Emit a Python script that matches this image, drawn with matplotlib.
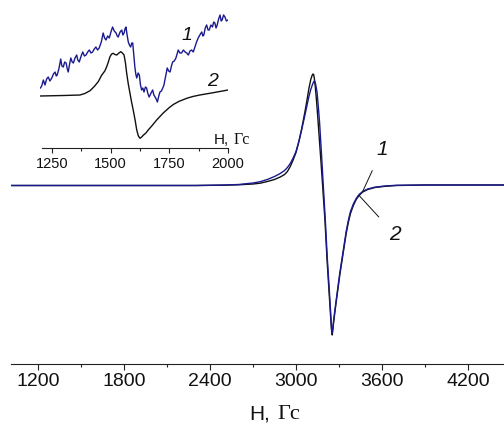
import matplotlib
matplotlib.use("Agg")
import matplotlib.pyplot as plt
from matplotlib.ticker import MultipleLocator, FixedLocator

# ---------------- data (main spectra) ----------------
black_h = [1012, 2300, 2500, 2600, 2700, 2750, 2800, 2850, 2890, 2920, 2940, 2960,
           2980, 3000, 3020, 3040, 3060, 3075, 3090, 3103, 3112, 3118, 3123, 3128,
           3135, 3143, 3152, 3160, 3174, 3188, 3202, 3216, 3230, 3241, 3248, 3253,
           3260, 3270, 3280, 3292, 3305, 3320, 3335, 3350, 3365, 3380, 3400, 3420,
           3440, 3465, 3500, 3550, 3620, 3700, 3900, 4451]
black_v = [0, 0, 0.3, 0.7, 1.5, 2.3, 4, 6, 8.5, 11, 14, 19,
           25.5, 33, 44, 57, 72, 84, 97, 106, 110, 111.5, 111, 107,
           98, 85, 68, 52, 24, -5, -35, -73, -105, -130, -145, -149.5,
           -140, -128, -117, -104, -90, -76, -62, -48, -37, -28, -20, -14,
           -10, -6.5, -4, -2, -0.8, 0, 0.5, 0.5]

blue_h = [1012, 2300, 2500, 2600, 2700, 2750, 2800, 2850, 2890, 2920, 2940, 2960,
          2980, 3000, 3020, 3040, 3060, 3075, 3090, 3103, 3115, 3124, 3130, 3136,
          3141, 3147, 3155, 3164, 3178, 3192, 3205, 3218, 3232, 3242, 3248, 3253,
          3260, 3270, 3280, 3292, 3305, 3320, 3335, 3350, 3365, 3380, 3400, 3420,
          3440, 3465, 3500, 3550, 3620, 3700, 3900, 4451]
blue_v = [0, 0, 0.5, 1, 2.5, 3.8, 6, 9, 12, 15, 18, 22,
          27.5, 34, 44, 56, 69, 79, 89, 96, 101, 104, 104.5, 102,
          98, 93, 80, 64, 31, -4, -36, -72, -104, -128, -143, -147.5,
          -138, -126, -115, -102, -88, -74, -60, -46, -35, -26, -18.5, -13,
          -9, -6, -3.5, -1.7, -0.5, 0.2, 0.5, 0.5]

# ---------------- data (inset) ----------------
inset2_h = [1200, 1300, 1369, 1390, 1412, 1430, 1447, 1462, 1475, 1483, 1490, 1497,
            1504, 1511, 1518, 1526, 1535, 1543, 1550, 1557, 1563, 1568, 1575, 1582,
            1589, 1596, 1604, 1611, 1618, 1625, 1632, 1640, 1650, 1660, 1675, 1696,
            1724, 1750, 1767, 1790, 1824, 1850, 1880, 1937, 2000]
inset2_v = [52, 52.5, 53, 54.5, 57.3, 61.5, 66.3, 73, 77, 81.3, 86, 91.3,
            94, 94.7, 93.5, 93, 95, 96.3, 95, 93, 85, 75, 64, 55,
            46, 38, 28, 18, 12, 9.7, 11, 13, 15, 18, 22, 28,
            35, 40.5, 43.5, 46.5, 49.7, 51.5, 53, 55.3, 58]

inset1_points = [
    (1200, 60), (1206, 62), (1213, 68), (1220, 63), (1227, 69), (1234, 71), (1241, 67),
    (1249, 70), (1256, 74), (1263, 76), (1268, 72), (1272, 73), (1280, 80), (1287, 89),
    (1292, 82), (1298, 81), (1304, 86), (1310, 85), (1315, 79), (1319, 76), (1325, 84),
    (1330, 90), (1336, 86), (1341, 85), (1348, 90), (1355, 93), (1360, 88), (1366, 86),
    (1374, 92), (1381, 96), (1388, 92), (1395, 93), (1402, 96), (1409, 98), (1416, 95),
    (1423, 96), (1430, 99), (1437, 101), (1444, 98), (1451, 100), (1460, 106), (1468, 115),
    (1474, 110), (1480, 108), (1487, 112), (1494, 110), (1501, 116), (1508, 121), (1515, 117),
    (1523, 115), (1528, 112), (1532, 111), (1540, 116), (1547, 118), (1552, 113), (1557, 115),
    (1561, 119), (1565, 121), (1570, 113), (1575, 106), (1580, 103), (1585, 101), (1590, 105),
    (1594, 105), (1599, 92), (1603, 81), (1607, 74), (1611, 70), (1617, 75), (1622, 73),
    (1627, 63), (1632, 58), (1637, 60), (1642, 56), (1648, 61), (1653, 60), (1659, 54),
    (1664, 51), (1672, 55), (1679, 58), (1684, 53), (1689, 51), (1694, 49), (1699, 46),
    (1705, 52), (1710, 56), (1716, 57), (1722, 60), (1727, 63), (1731, 68), (1736, 74),
    (1741, 80), (1747, 77), (1753, 76), (1759, 82), (1764, 86), (1771, 87), (1778, 90),
    (1783, 94), (1788, 98), (1795, 95), (1802, 95), (1810, 98), (1817, 96), (1824, 95),
    (1831, 93), (1838, 97), (1845, 98), (1852, 96), (1859, 101), (1866, 106), (1873, 110),
    (1880, 113), (1888, 116), (1893, 112), (1897, 113), (1903, 120), (1909, 123), (1915, 118),
    (1920, 118), (1927, 123), (1934, 121), (1939, 126), (1944, 125), (1949, 120), (1954, 123),
    (1960, 129), (1966, 133), (1971, 127), (1975, 128), (1981, 133), (1987, 131), (1993, 127),
    (2000, 128)]
inset1_h = [p[0] for p in inset1_points]
inset1_v = [p[1] for p in inset1_points]

main_ticks = [1200, 1800, 2400, 3000, 3600, 4200]
inset_ticks = [1250, 1500, 1750, 2000]

BLUE = '#1a1a90'
BLACK = '#111111'
W, H = 504, 426

fig = plt.figure(figsize=(W / 100, H / 100), dpi=100)

def px_rect(x0, y0, x1, y1):
    return [x0 / W, (H - y1) / H, (x1 - x0) / W, (y1 - y0) / H]

# ---------------- main axes ----------------
ax = fig.add_axes(px_rect(11, 10, 504, 364))
ax.plot(black_h, black_v, color=BLACK, lw=1.0)
ax.plot(blue_h, blue_v, color=BLUE, lw=1.0)
ax.set_xlim(1011.6, 4451.1)
ax.set_ylim(-178.5, 175.5)
for s in ['top', 'left', 'right']:
    ax.spines[s].set_visible(False)
ax.spines['bottom'].set_linewidth(0.8)
ax.spines['bottom'].set_color('#222222')
ax.set_yticks([])
ax.xaxis.set_major_locator(FixedLocator(main_ticks))
ax.xaxis.set_minor_locator(MultipleLocator(300))
ax.tick_params(axis='x', which='major', direction='out', length=4, width=0.8,
               color='#222222', pad=2.5, labelsize=14, labelcolor='#111111')
ax.tick_params(axis='x', which='minor', direction='out', length=2.5, width=0.8, color='#222222')
for lab in ax.get_xticklabels():
    lab.set_fontfamily('Liberation Sans')

# curve labels with leader lines
i1 = blue_h.index(3465)
ax.annotate('1', xy=(blue_h[i1], blue_v[i1]), xytext=(3600, 36),
            ha='center', va='center', fontsize=15, style='italic',
            family='Liberation Sans', color='#111111',
            arrowprops=dict(arrowstyle='-', color='#111111', lw=0.7,
                            shrinkA=7, shrinkB=0))
i2 = black_h.index(3440)
ax.annotate('2', xy=(black_h[i2], black_v[i2]), xytext=(3690, -49),
            ha='center', va='center', fontsize=15, style='italic',
            family='Liberation Sans', color='#111111',
            arrowprops=dict(arrowstyle='-', color='#111111', lw=0.7,
                            shrinkA=8, shrinkB=0))

# main axis title (mixed fonts like the original)
fig.text(270 / W, (H - 419) / H, 'H,', ha='right', va='baseline', fontsize=15,
         family='Liberation Sans', color='#111111')
fig.text(277 / W, (H - 419) / H, 'Гс', ha='left', va='baseline', fontsize=16,
         family='Liberation Serif', color='#111111')

# ---------------- inset axes ----------------
ins = fig.add_axes(px_rect(40.3, 5, 228, 148))
ins.patch.set_alpha(0)
ins.plot(inset2_h, inset2_v, color=BLACK, lw=1.0)
ins.plot(inset1_h, inset1_v, color=BLUE, lw=1.0)
ins.set_xlim(1200, 2000)
ins.set_ylim(0, 143)
for s in ['top', 'left', 'right']:
    ins.spines[s].set_visible(False)
ins.spines['bottom'].set_linewidth(0.8)
ins.spines['bottom'].set_color('#222222')
ins.spines['bottom'].set_bounds(1206, 2000)
ins.set_yticks([])
ins.xaxis.set_major_locator(FixedLocator(inset_ticks))
ins.xaxis.set_minor_locator(FixedLocator([1375, 1625, 1875]))
ins.tick_params(axis='x', which='major', direction='out', length=3.5, width=0.8,
                color='#222222', pad=3, labelsize=10.5, labelcolor='#111111')
ins.tick_params(axis='x', which='minor', direction='out', length=2.5, width=0.8, color='#222222')
for lab in ins.get_xticklabels():
    lab.set_fontfamily('Liberation Sans')

ins.text(1825, 113, '1', ha='center', va='center', fontsize=14, style='italic',
         family='Liberation Sans', color='#111111')
ins.text(1934, 66, '2', ha='center', va='center', fontsize=14, style='italic',
         family='Liberation Sans', color='#111111')

fig.text(229 / W, (H - 144) / H, 'H,', ha='right', va='baseline', fontsize=11,
         family='Liberation Sans', color='#111111')
fig.text(234 / W, (H - 144) / H, 'Гс', ha='left', va='baseline', fontsize=11.5,
         family='Liberation Serif', color='#111111')

fig.savefig('out.png', dpi=100)
